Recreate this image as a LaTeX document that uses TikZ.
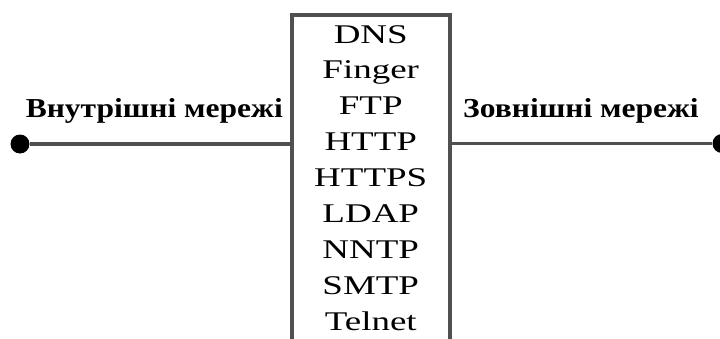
\documentclass[tikz,border=0pt]{standalone}
\usepackage{fontspec}
\setmainfont{Liberation Serif}[FakeStretch=1.37]
\newfontfamily\labelfont{Liberation Serif}[FakeStretch=1.15]
\usepackage{tikz}
\usetikzlibrary{positioning,calc}
\definecolor{mygray}{RGB}{80,80,80}
\tikzset{
    netline/.style  = {draw=mygray, line width=3.5pt},
    fwbox/.style    = {draw=mygray, line width=4pt, fill=white,
            minimum width=158pt, minimum height=326pt,
            inner sep=0pt, outer sep=0pt},
    protolist/.style = {align=center, inner sep=0pt,
            font=\fontsize{27}{35.9}\selectfont},
    netlabel/.style = {inner sep=0pt, font=\labelfont\fontsize{27.4}{32}\selectfont\bfseries},
    netdot/.style   = {circle, fill=black, minimum size=19pt, inner sep=0pt},
}
\begin{document}
\begin{tikzpicture}[x=1pt, y=1pt]
            \useasboundingbox (0,0) rectangle (720,338);
            % Nodes
            \node[netdot] (inner) at (20,194) {};
            \node[netdot] (outer) at (722,194.5) {};
            \node[fwbox] (fw) at (370.75,160) {};
            \node[protolist, below=10pt of fw.north] (list)
                {DNS\\ Finger\\ FTP\\ HTTP\\ HTTPS\\ LDAP\\ NNTP\\ SMTP\\ Telnet};
            \node[netlabel, anchor=base east] (inlabel) at (283,221) {Внутрішні мережі};
            \node[netlabel, anchor=base west] (outlabel) at (463,220) {Зовнішні мережі};

            % Lines
            \draw[netline] (inner) -- (inner -| fw.west);
            \draw[netline] (outer) -- (outer -| fw.east);
\end{tikzpicture}
\end{document}
